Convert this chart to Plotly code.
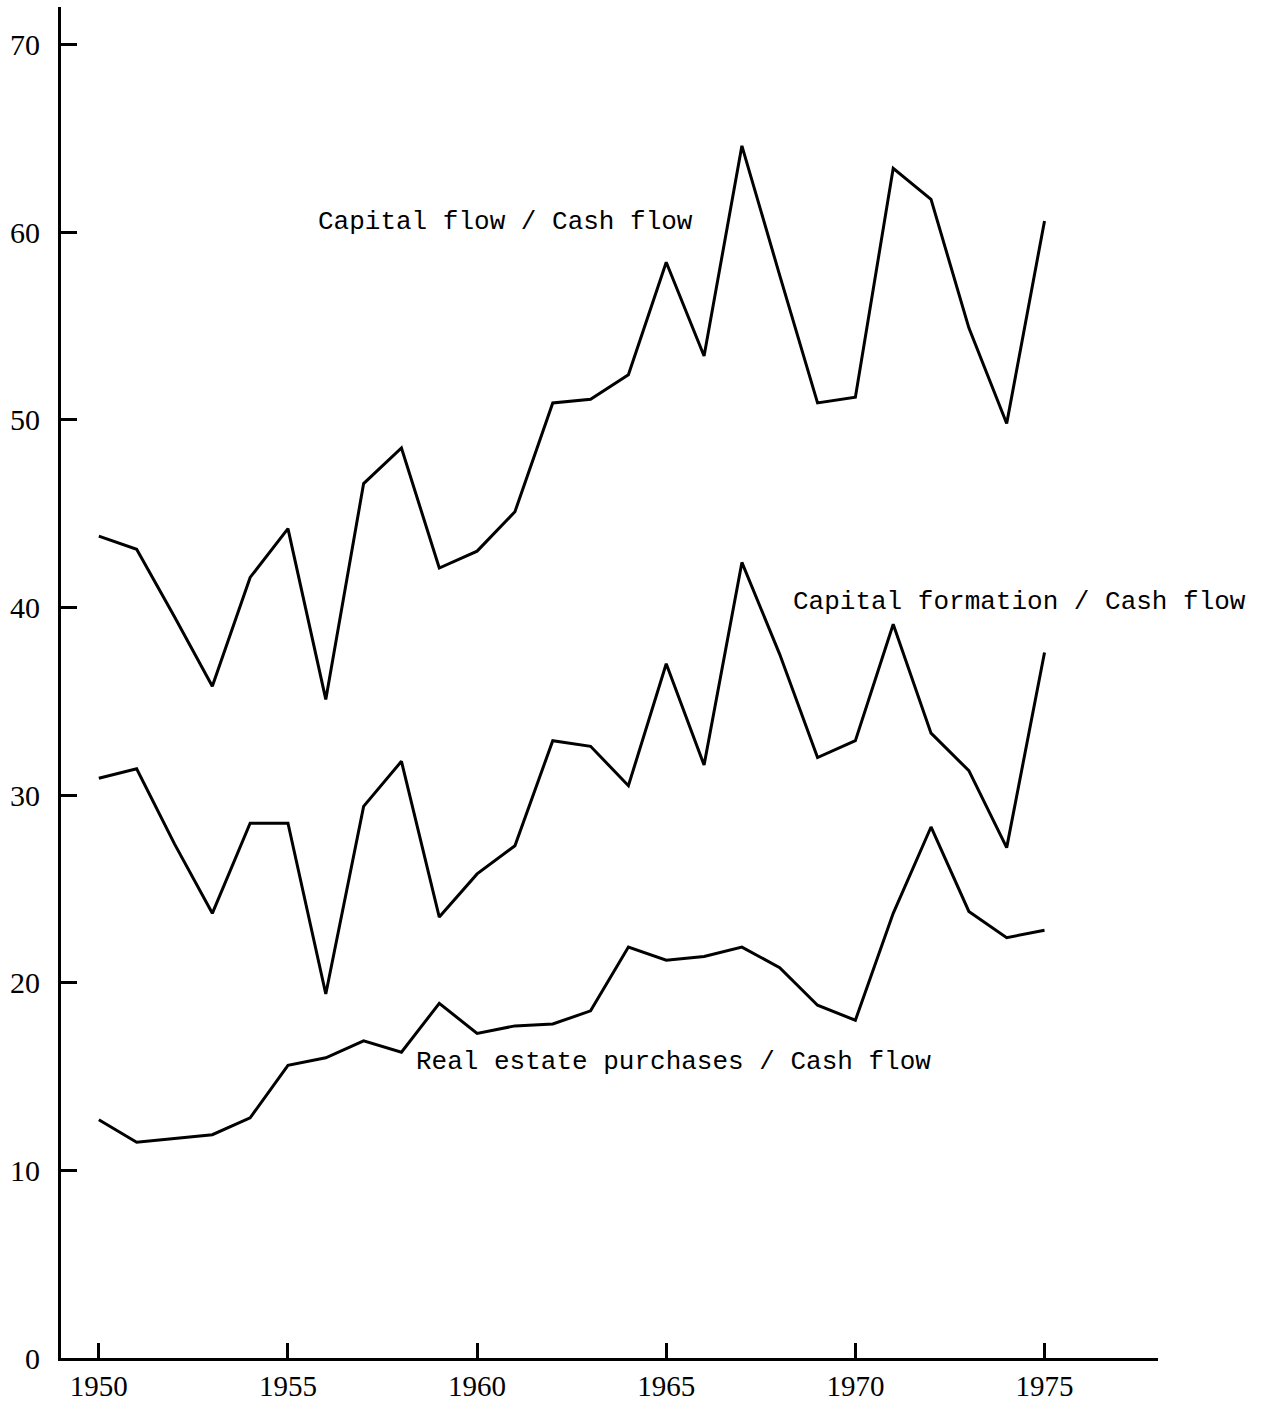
import plotly.graph_objects as go

years = list(range(1950, 1976))

capital_flow = [43.8, 43.1, 39.5, 35.8, 41.6, 44.2, 35.1, 46.6, 48.5, 42.1,
                43.0, 45.1, 50.9, 51.1, 52.4, 58.4, 53.4, 64.6, 57.7, 50.9,
                51.2, 63.4, 61.75, 54.9, 49.8, 60.6]

capital_formation = [30.9, 31.4, 27.4, 23.7, 28.5, 28.5, 19.4, 29.4, 31.8, 23.5,
                     25.8, 27.3, 32.9, 32.6, 30.5, 37.0, 31.6, 42.4, 37.5, 32.0,
                     32.9, 39.1, 33.3, 31.3, 27.2, 37.6]

real_estate = [12.7, 11.5, 11.7, 11.9, 12.8, 15.6, 16.0, 16.9, 16.3, 18.9,
               17.3, 17.7, 17.8, 18.5, 21.9, 21.2, 21.4, 21.9, 20.8, 18.8,
               18.0, 23.7, 28.3, 23.8, 22.4, 22.8]

labels = ["Capital flow / Cash flow",
          "Capital formation / Cash flow",
          "Real estate purchases / Cash flow"]
label_x = [1960.75, 1974.34, 1965.2]
label_y = [60.56, 40.29, 15.75]

x_ticks = [1950, 1955, 1960, 1965, 1970, 1975]
y_ticks = [0, 10, 20, 30, 40, 50, 60, 70]

fig = go.Figure()
for name, vals in zip(labels, [capital_flow, capital_formation, real_estate]):
    fig.add_trace(go.Scatter(x=years, y=vals, mode="lines", name=name,
                             line=dict(color="black", width=3),
                             showlegend=False))

for t, lx, ly in zip(labels, label_x, label_y):
    fig.add_annotation(x=lx, y=ly, text=t, showarrow=False,
                       font=dict(family="Liberation Mono", size=26, color="black"),
                       xanchor="center", yanchor="middle")

fig.update_layout(
    width=1263, height=1403,
    margin=dict(l=61, r=105, t=7, b=45, autoexpand=False),
    paper_bgcolor="white", plot_bgcolor="white",
    font=dict(family="Liberation Serif", size=30, color="black"),
)
fig.update_xaxes(range=[1949.0, 1978.0], tickvals=x_ticks, ticktext=[str(v) for v in x_ticks],
                 ticks="inside", ticklen=15, tickwidth=3, tickcolor="black",
                 showline=True, linecolor="black", linewidth=3,
                 showgrid=False, zeroline=False, ticklabelstandoff=0,
                 tickfont=dict(family="Liberation Serif", size=29, color="black"))
fig.update_yaxes(range=[0, 72], tickvals=y_ticks, ticktext=[str(v) for v in y_ticks],
                 ticks="inside", ticklen=16, tickwidth=3, tickcolor="black",
                 showline=True, linecolor="black", linewidth=3,
                 showgrid=False, zeroline=False, ticklabelstandoff=12,
                 tickfont=dict(family="Liberation Serif", size=30, color="black"))

fig.write_html("out.html", config={"displayModeBar": False},
               post_script="document.body.style.margin='0';document.body.style.padding='0';")
